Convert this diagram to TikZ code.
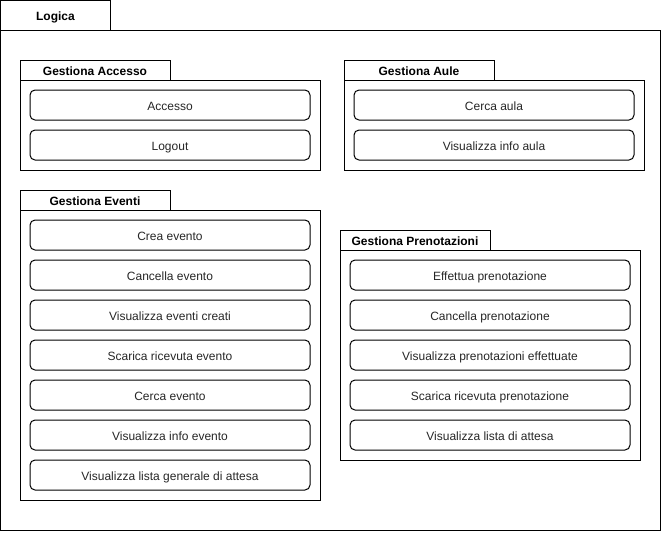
\documentclass[tikz,border=0pt]{standalone}
\usepackage{fontspec}
\setmainfont{Liberation Sans}
\begin{document}
\begin{tikzpicture}[x=1pt,y=-1pt,line width=1pt,
  pkgbody/.style={draw,rectangle,inner sep=0pt,outer sep=0pt,anchor=north west},
  pkgtab/.style={draw,rectangle,inner sep=0pt,outer sep=0pt,anchor=north west,minimum height=20pt,text height=10.5pt,text depth=0.5pt,font=\bfseries\fontsize{12}{14}\selectfont},
  item/.style={draw,rectangle,rounded corners=5pt,anchor=north west,minimum width=280pt,minimum height=30pt,inner sep=0pt,outer sep=0pt,text height=10.5pt,text depth=0.5pt,text=black!85,font=\fontsize{12}{14}\selectfont}]
\path[use as bounding box] (0,0) rectangle (661,539);
% outer package
\node[pkgbody,minimum width=659.5pt,minimum height=500pt] (logica) at (0.5,30) {};
\node[pkgtab,minimum width=110pt,minimum height=30pt] (logicatab) at (0.5,0.5) {Logica};
% Gestiona Accesso
\node[pkgbody,minimum width=300pt,minimum height=90pt] (acc) at (20,80) {};
\node[pkgtab,minimum width=150pt] (acctab) at (20,60) {Gestiona Accesso};
\node[item] (accesso) at (30,90) {Accesso};
\node[item] (logout) at (30,130) {Logout};
% Gestiona Aule
\node[pkgbody,minimum width=300pt,minimum height=90pt] (aule) at (344,80) {};
\node[pkgtab,minimum width=150pt] (auletab) at (344,60) {Gestiona Aule};
\node[item] (cercaaula) at (354,90) {Cerca aula};
\node[item] (infoaula) at (354,130) {Visualizza info aula};
% Gestiona Eventi
\node[pkgbody,minimum width=300pt,minimum height=290pt] (ev) at (20,210) {};
\node[pkgtab,minimum width=150pt] (evtab) at (20,190) {Gestiona Eventi};
\node[item] (e1) at (30,220) {Crea evento};
\node[item] (e2) at (30,260) {Cancella evento};
\node[item] (e3) at (30,300) {Visualizza eventi creati};
\node[item] (e4) at (30,340) {Scarica ricevuta evento};
\node[item] (e5) at (30,380) {Cerca evento};
\node[item] (e6) at (30,420) {Visualizza info evento};
\node[item] (e7) at (30,460) {Visualizza lista generale di attesa};
% Gestiona Prenotazioni
\node[pkgbody,minimum width=300pt,minimum height=210pt] (pr) at (340,250) {};
\node[pkgtab,minimum width=150pt] (prtab) at (340,230) {Gestiona Prenotazioni};
\node[item] (p1) at (350,260) {Effettua prenotazione};
\node[item] (p2) at (350,300) {Cancella prenotazione};
\node[item] (p3) at (350,340) {Visualizza prenotazioni effettuate};
\node[item] (p4) at (350,380) {Scarica ricevuta prenotazione};
\node[item] (p5) at (350,420) {Visualizza lista di attesa};
\end{tikzpicture}
\end{document}
